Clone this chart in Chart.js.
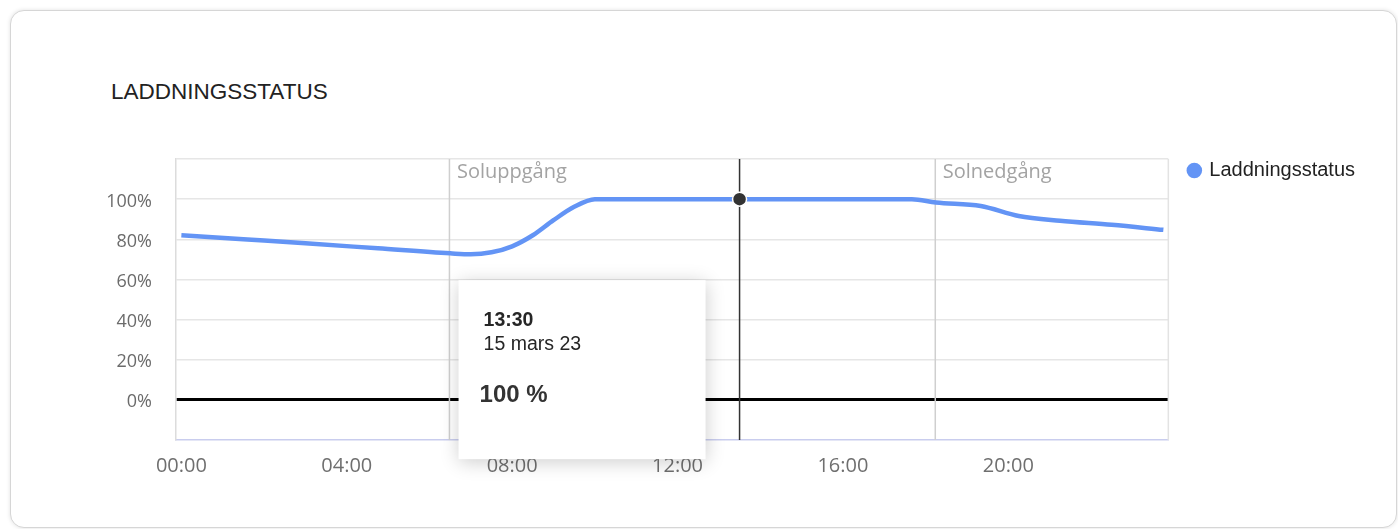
<!DOCTYPE html>
<html>
<head>
<meta charset="utf-8">
<script src="https://cdn.jsdelivr.net/npm/chart.js@4.4.0/dist/chart.umd.min.js"></script>
<style>
  html, body { margin: 0; padding: 0; background: #fff; }
  #wrap { position: relative; width: 1398px; height: 529px; overflow: hidden; }
  .card {
    position: absolute; left: 10px; top: 10px; width: 1385px; height: 516px;
    border: 1px solid #d6d6d6; border-radius: 14px;
    box-shadow: 0 0 4px rgba(0, 0, 0, 0.12); background: #fff;
  }
  .title {
    position: absolute; left: 111px; top: 79px;
    font: 22.5px/26px "Liberation Sans", Arial, sans-serif; color: #222;
  }
  canvas { position: absolute; left: 0; top: 0; }
</style>
</head>
<body>
<div id="wrap">
  <div class="card"></div>
  <div class="title">LADDNINGSSTATUS</div>
  <canvas id="chart" width="1398" height="529"></canvas>
</div>
<script>
// readings of the state of charge, 15 mars 23
const times = ['00:00', '01:30', '03:00', '04:45', '06:30', '07:00', '07:30', '08:00', '08:30', '09:00',
  '09:30', '10:00', '13:30', '17:40', '18:15', '19:20', '20:15', '21:15', '22:30', '23:45'];
const charge = [82, 80, 78, 75.5, 73, 72.5, 73.5, 76.5, 82, 89.5,
  96.2, 100, 100, 100, 98.3, 96.6, 91.6, 89.2, 87.2, 84.7];

const xTickHours = [0, 4, 8, 12, 16, 20];
const xTickLabels = ['00:00', '04:00', '08:00', '12:00', '16:00', '20:00'];

const sunTimes = ['06:29', '18:14'];
const sunLabels = ['Soluppgång', 'Solnedgång'];

const activeTime = '13:30';
const tipDate = '15 mars 23';

const blue = '#6394f5';

function toHours(t) {
  const [h, m] = t.split(':').map(Number);
  return h + m / 60;
}

const activeIndex = times.indexOf(activeTime);

const dayMarks = {
  id: 'dayMarks',
  beforeDatasetsDraw(chart) {
    const { ctx, chartArea: a, scales: { x } } = chart;
    ctx.save();
    ctx.lineWidth = 1.5;
    ctx.strokeStyle = '#cfcfcf';
    ctx.fillStyle = '#a3a3a3';
    ctx.font = '20px "Open Sans", sans-serif';
    ctx.textBaseline = 'alphabetic';
    sunTimes.forEach((t, i) => {
      const px = x.getPixelForValue(toHours(t));
      ctx.beginPath();
      ctx.moveTo(px, a.top);
      ctx.lineTo(px, a.bottom);
      ctx.stroke();
      ctx.fillText(sunLabels[i], px + 7.5, a.top + 19);
    });
    // right edge of the plot
    ctx.strokeStyle = '#e3e3e3';
    ctx.beginPath();
    ctx.moveTo(a.right, a.top);
    ctx.lineTo(a.right, a.bottom);
    ctx.stroke();
    // crosshair at the hovered reading
    const pt = chart.getDatasetMeta(0).data[activeIndex];
    ctx.strokeStyle = '#333';
    ctx.beginPath();
    ctx.moveTo(pt.x, a.top);
    ctx.lineTo(pt.x, a.bottom);
    ctx.stroke();
    ctx.restore();
  }
};

const tipBox = {
  id: 'tipBox',
  afterDraw(chart) {
    const ctx = chart.ctx;
    const pt = chart.getDatasetMeta(0).data[activeIndex];
    const bx = pt.x - 281, by = pt.y + 81, bw = 247, bh = 179;
    ctx.save();
    ctx.shadowColor = 'rgba(0, 0, 0, 0.2)';
    ctx.shadowBlur = 18;
    ctx.shadowOffsetY = 3;
    ctx.fillStyle = '#fff';
    ctx.fillRect(bx, by, bw, bh);
    ctx.restore();

    ctx.save();
    ctx.fillStyle = '#262626';
    ctx.textBaseline = 'alphabetic';
    ctx.font = 'bold 19.5px "Liberation Sans", Arial, sans-serif';
    ctx.fillText(times[activeIndex], bx + 25, by + 46);
    ctx.font = '19.5px "Liberation Sans", Arial, sans-serif';
    ctx.fillText(tipDate, bx + 25, by + 70);
    ctx.font = 'bold 24px "Liberation Sans", Arial, sans-serif';
    ctx.fillStyle = '#333';
    ctx.fillText(charge[activeIndex] + ' %', bx + 21, by + 122);
    ctx.restore();
  }
};

new Chart(document.getElementById('chart'), {
  type: 'line',
  data: {
    datasets: [{
      label: 'Laddningsstatus',
      data: times.map((t, i) => ({ x: toHours(t), y: charge[i] })),
      borderColor: blue,
      backgroundColor: blue,
      borderWidth: 4.5,
      cubicInterpolationMode: 'monotone',
      pointRadius: (c) => (c.dataIndex === activeIndex ? 7 : 0),
      pointHoverRadius: (c) => (c.dataIndex === activeIndex ? 7 : 0),
      pointBackgroundColor: (c) => (c.dataIndex === activeIndex ? '#333' : blue),
      pointBorderColor: (c) => (c.dataIndex === activeIndex ? '#fff' : blue),
      pointBorderWidth: (c) => (c.dataIndex === activeIndex ? 1.5 : 0),
    }],
  },
  options: {
    responsive: false,
    animation: false,
    events: [],
    layout: { padding: { top: 139.5, right: 33, bottom: 0, left: 0 } },
    plugins: {
      tooltip: { enabled: false },
      legend: {
        position: 'right',
        align: 'start',
        labels: {
          usePointStyle: true,
          pointStyle: 'circle',
          boxWidth: 10,
          boxHeight: 11,
          padding: 21,
          color: '#222',
          font: { family: '"Liberation Sans", Arial, sans-serif', size: 20 },
        },
      },
    },
    scales: {
      x: {
        type: 'linear',
        min: -0.13,
        max: 23.87,
        afterBuildTicks: (s) => {
          s.ticks = xTickHours.map((v) => ({ value: v }));
        },
        afterFit: (s) => {
          s.height = 89;
        },
        grid: { display: false, drawTicks: false },
        border: { display: true, color: '#c9cdee', width: 1.5 },
        ticks: {
          autoSkip: false,
          maxRotation: 0,
          padding: 14,
          color: '#6f6f6f',
          font: { family: '"Open Sans", sans-serif', size: 20 },
          callback: (v, i) => xTickLabels[i],
        },
      },
      y: {
        min: -20,
        max: 120,
        afterFit: (s) => {
          s.width = 176;
          s.paddingTop = 159;
          s.paddingBottom = 0;
        },
        grid: {
          drawTicks: false,
          color: (c) => (c.tick.value === 0 ? '#000' : c.tick.value === -20 ? 'rgba(0,0,0,0)' : '#e6e6e6'),
          lineWidth: (c) => (c.tick.value === 0 ? 3 : 1.5),
        },
        border: { display: true, color: '#dcdcdc', width: 1.5 },
        ticks: {
          stepSize: 20,
          padding: 24,
          labelOffset: 2.5,
          color: '#6b6b6b',
          font: { family: '"Open Sans", sans-serif', size: 18 },
          callback: (v) => (v >= 0 && v <= 100 ? v + '%' : ''),
        },
      },
    },
  },
  plugins: [dayMarks, tipBox],
});
</script>
</body>
</html>
